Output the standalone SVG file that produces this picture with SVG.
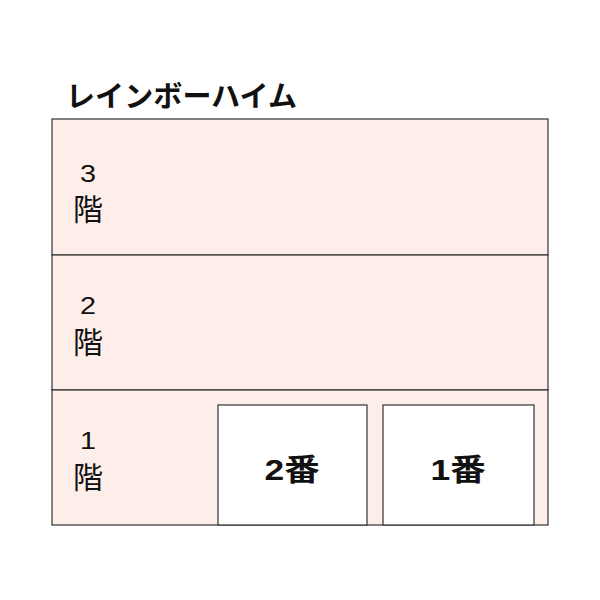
<svg xmlns="http://www.w3.org/2000/svg" width="600" height="600" viewBox="0 0 600 600">
<style>
.floor{fill:#fdeeea;stroke:#333;stroke-width:1.2}
.room{fill:#fff;stroke:#333;stroke-width:1.2}
.t{font-family:"Liberation Sans","Noto Sans CJK JP",sans-serif;fill:#111}
.num{font-size:23px;text-anchor:middle}
.kai{font-size:30px;text-anchor:middle;font-family:"Noto Sans CJK JP",sans-serif}
.rl{font-size:30px;font-weight:bold;text-anchor:middle}
.title{font-size:29px;font-weight:bold;font-family:"Noto Sans CJK JP",sans-serif}
</style>
<rect width="600" height="600" fill="#fff"/>
<text class="t title" x="66" y="107" textLength="231">レインボーハイム</text>
<g id="floor3">
<rect class="floor" x="52" y="119" width="496" height="136"/>
<text class="t num" x="88" y="182" transform="translate(88 0) scale(1.25 1) translate(-88 0)">3</text>
<text class="t kai" x="88" y="220">階</text>
</g>
<g id="floor2">
<rect class="floor" x="52" y="255" width="496" height="135"/>
<text class="t num" x="88" y="314" transform="translate(88 0) scale(1.25 1) translate(-88 0)">2</text>
<text class="t kai" x="88" y="353">階</text>
</g>
<g id="floor1">
<rect class="floor" x="52" y="390" width="496" height="135"/>
<text class="t num" x="88" y="449" transform="translate(88 0) scale(1.25 1) translate(-88 0)">1</text>
<text class="t kai" x="88" y="488">階</text>
</g>
<g id="room2">
<rect class="room" x="218" y="405" width="149" height="120"/>
<text class="t rl" x="292" y="480" transform="translate(292 0) scale(1.18 1) translate(-292 0)">2番</text>
</g>
<g id="room1">
<rect class="room" x="383" y="405" width="151" height="120"/>
<text class="t rl" x="458" y="480" transform="translate(458 0) scale(1.18 1) translate(-458 0)">1番</text>
</g>
<g id="connectors"/>
</svg>
